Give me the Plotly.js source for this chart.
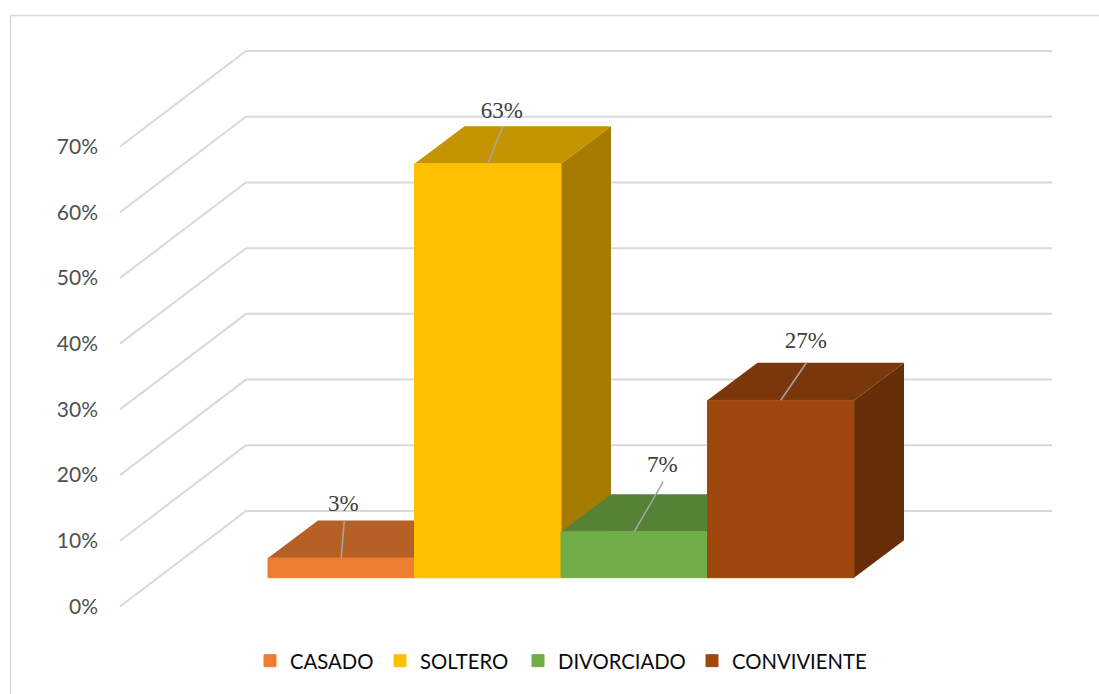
<!DOCTYPE html>
<html>
<head>
<meta charset="utf-8">
<script src="https://cdn.plot.ly/plotly-3.0.1.min.js"></script>
<style>html,body{margin:0;padding:0;background:#fff}#chart{width:1099px;height:694px}</style>
</head>
<body>
<div id="chart"></div>
<script>
// ---- data ----
const categories = ['CASADO', 'SOLTERO', 'DIVORCIADO', 'CONVIVIENTE'];
const percentages = [3, 63, 7, 27];
const axisTicks = [0, 10, 20, 30, 40, 50, 60, 70];
const axisTickLabels = ['0%', '10%', '20%', '30%', '40%', '50%', '60%', '70%'];

// ---- styles ----
const frontColors = ['#ED7D31', '#FFC000', '#70AD47', '#9E480E'];
const topColors   = ['#B66026', '#C49300', '#568235', '#7A370B'];
const sideColors  = ['#9A5120', '#A57C00', '#497229', '#672F09'];

// ---- scale of the oblique projection, in pixels ----
const W = 1099, H = 694;
const M = {l: 115, r: 40, t: 40, b: 84};
const pxPerCat = 146.5, pxPerPct = 6.571;
const catZeroPx = 341.25, pctZeroPx = 606.5;
const toCat = d => d / pxPerCat, toPct = d => d / pxPerPct;

const xRange = [toCat(M.l - catZeroPx), toCat(W - M.r - catZeroPx)];
const yRange = [toPct(pctZeroPx - (H - M.b)), toPct(pctZeroPx - M.t)];

const floorDx = toCat(126), floorDy = toPct(95.5);   // wall depth
const barDx = toCat(50), barDy = toPct(37.5);        // bar depth
const baseLift = toPct(28.8);                        // bars stand inside the floor
const gridStart = toCat(120 - catZeroPx), gridEnd = toCat(1052 - catZeroPx);
const leaderEnds = [[3, 37.5], [15, 37], [29, 50], [26, 38]];
const labelRise = [15, 14, 15, 20];
const labelShift = -1;
const legendLeftPx = [250, 380, 518, 692];

const traces = [];

// gridlines: side wall then back wall
axisTicks.forEach(t => {
  traces.push({
    type: 'scatter', mode: 'lines', zorder: 0,
    x: [gridStart, gridStart + floorDx, gridEnd],
    y: [t, t + floorDy, t + floorDy],
    line: {color: '#D9D9D9', width: 2},
    showlegend: false, hoverinfo: 'skip'
  });
});

function face(xs, ys, color, z) {
  return {
    type: 'scatter', mode: 'lines', fill: 'toself', fillcolor: color, zorder: z,
    x: xs, y: ys, line: {width: 0, color: color},
    showlegend: false, hoverinfo: 'skip'
  };
}

const legendId = i => i === 0 ? 'legend' : 'legend' + (i + 1);

categories.forEach((name, i) => {
  const x0 = i - 0.5, x1 = i + 0.5;
  const b = baseLift, v = baseLift + percentages[i];
  const z = 1 + i * 2;
  traces.push(face([x1, x1 + barDx, x1 + barDx, x1, x1], [b, b + barDy, v + barDy, v, b], sideColors[i], z));
  traces.push(face([x0, x1, x1 + barDx, x0 + barDx, x0], [v, v, v + barDy, v + barDy, v], topColors[i], z));
  traces.push({
    type: 'bar', name: name, zorder: z + 1, legend: legendId(i),
    x: [i], y: [percentages[i]], base: [baseLift], width: [1],
    marker: {color: frontColors[i], line: {width: 1, color: frontColors[i]}},
    hovertemplate: name + ': %{y}%<extra></extra>'
  });
});

categories.forEach((name, i) => {
  const top = baseLift + percentages[i];
  const ex = i + toCat(leaderEnds[i][0]), ey = top + toPct(leaderEnds[i][1]);
  traces.push({
    type: 'scatter', mode: 'lines', zorder: 20,
    x: [i, ex], y: [top, ey],
    line: {color: '#A6A6A6', width: 1.5},
    showlegend: false, hoverinfo: 'skip'
  });
  traces.push({
    type: 'scatter', mode: 'text', zorder: 20,
    x: [ex + toCat(labelShift)], y: [ey + toPct(labelRise[i])],
    text: [percentages[i] + '%'], textposition: 'middle center',
    textfont: {family: '"Liberation Serif", serif', size: 23, color: '#404040'},
    showlegend: false, hoverinfo: 'skip'
  });
});

const plotW = W - M.l - M.r, plotH = H - M.t - M.b;
const layout = {
  width: W, height: H, margin: M, autosize: false,
  paper_bgcolor: '#fff', plot_bgcolor: 'rgba(0,0,0,0)',
  barmode: 'overlay', showlegend: true,
  xaxis: {visible: false, range: xRange, fixedrange: true, showgrid: false, zeroline: false},
  yaxis: {
    range: yRange, fixedrange: true, showgrid: false, zeroline: false, showline: false,
    tickmode: 'array', tickvals: axisTicks, ticktext: axisTickLabels, ticks: '', ticklabelstandoff: 16,
    tickfont: {family: 'Lato, sans-serif', size: 21, color: '#505050'}
  },
  shapes: [{
    type: 'rect', layer: 'below', xref: 'paper', yref: 'paper',
    x0: (10.5 - M.l) / plotW, x1: (W + 10 - M.l) / plotW,
    y0: (H - M.b - (H + 10)) / plotH, y1: (H - M.b - 15.5) / plotH,
    line: {color: '#D9D9D9', width: 1.5}, fillcolor: 'rgba(0,0,0,0)'
  }]
};
categories.forEach((name, i) => {
  layout[legendId(i)] = {
    orientation: 'h',
    x: (legendLeftPx[i] - M.l) / plotW, xanchor: 'left',
    y: (H - M.b - 661) / plotH, yanchor: 'middle',
    font: {family: 'Lato, sans-serif', size: 20.3, color: '#0A0A0A'},
    bgcolor: 'rgba(0,0,0,0)'
  };
});
Plotly.newPlot('chart', traces, layout, {displayModeBar: false});
</script>
</body>
</html>
